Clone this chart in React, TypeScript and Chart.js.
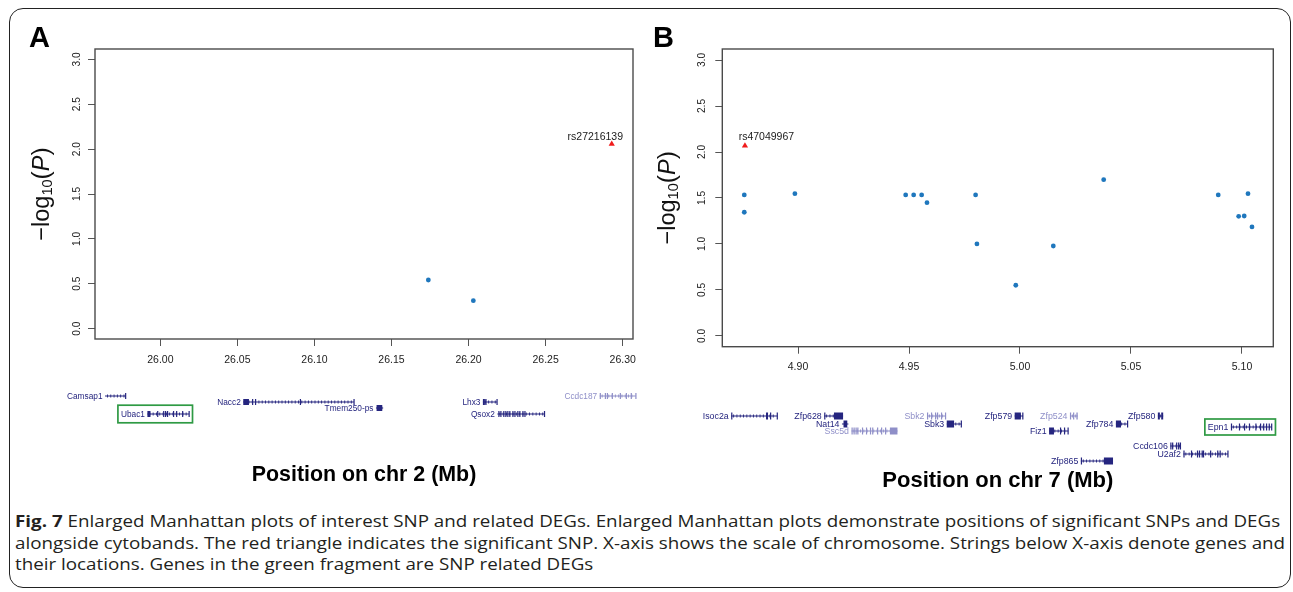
import React, { useEffect, useLayoutEffect, useRef } from 'react';
import { Chart, registerables } from 'chart.js';

Chart.register(...registerables);

const FONT = '"Liberation Sans", Arial, sans-serif';

// ---------------- Panel A (chr 2) ----------------
const aSnpPos = [26.1739, 26.2031];
const aSnpLogP = [0.542, 0.312];
const aSigPos = [26.2929];
const aSigLogP = [2.057];
const aSigId = ['rs27216139'];
const aXRange = [25.9576, 26.3067];
const aYRange = [-0.115, 3.115];
const aTitle = 'Position on chr 2 (Mb)';

const aGeneName = ['Camsap1', 'Ubac1', 'Nacc2', 'Tmem250-ps', 'Lhx3', 'Qsox2', 'Ccdc187'];
const aGeneStart = [25.9641, 25.9916, 26.0538, 26.1399, 26.2093, 26.2187, 26.2851];
const aGeneEnd = [25.9776, 26.0186, 26.1256, 26.1446, 26.2184, 26.2492, 26.3085];
const aGeneRow = [0, 3, 1, 2, 1, 3, 0];
const aGeneExons = [
  [[25.9771, 25.9776]],
  [[25.9916, 25.9936], [25.9979, 25.9982], [26.0018, 26.0024], [26.0030, 26.0036], [26.0043, 26.0050], [26.0082, 26.0085], [26.0102, 26.0105], [26.0141, 26.0144], [26.0183, 26.0186]],
  [[26.0538, 26.0575], [26.0595, 26.0598], [26.0614, 26.0617], [26.0905, 26.0908], [26.1253, 26.1256]],
  [[26.1403, 26.1440]],
  [[26.2093, 26.2097], [26.2101, 26.2105], [26.2109, 26.2113], [26.2181, 26.2184]],
  [[26.2193, 26.2199], [26.2206, 26.2212], [26.2225, 26.2231], [26.2238, 26.2244], [26.2251, 26.2257], [26.2264, 26.2270], [26.2284, 26.2290], [26.2297, 26.2303], [26.2316, 26.2322], [26.2329, 26.2335], [26.2349, 26.2355], [26.2362, 26.2368], [26.2489, 26.2492]],
  [[26.2851, 26.2854], [26.2884, 26.2888], [26.2897, 26.2901], [26.2929, 26.2933], [26.2981, 26.2984], [26.3020, 26.3023], [26.3052, 26.3055], [26.3082, 26.3085]],
];
const aGeneLight = ['Ccdc187'];
const aGeneDEG = ['Ubac1'];

// ---------------- Panel B (chr 7) ----------------
const bSnpPos = [4.8758, 4.8758, 4.8986, 4.9485, 4.9521, 4.9557, 4.9581, 4.9800, 4.9806, 4.9981, 5.0150, 5.0377, 5.0893, 5.0985, 5.1010, 5.1027, 5.1045];
const bSnpLogP = [1.533, 1.345, 1.547, 1.533, 1.533, 1.533, 1.449, 1.533, 1.000, 0.551, 0.978, 1.699, 1.533, 1.301, 1.304, 1.547, 1.185];
const bSigPos = [4.8761];
const bSigLogP = [2.068];
const bSigId = ['rs47049967'];
const bXRange = [4.8659, 5.1141];
const bYRange = [-0.117, 3.12];
const bTitle = 'Position on chr 7 (Mb)';

const bGeneName = ['Isoc2a', 'Zfp628', 'Nat14', 'Ssc5d', 'Sbk2', 'Sbk3', 'Zfp579', 'Zfp524', 'Fiz1', 'Zfp784', 'Zfp580', 'Epn1', 'Ccdc106', 'U2af2', 'Zfp865'];
const bGeneStart = [4.8699, 4.9118, 4.9198, 4.9241, 4.9581, 4.9670, 4.9976, 5.0225, 5.0131, 5.0432, 5.0621, 5.0950, 5.0677, 5.0736, 5.0274];
const bGeneEnd = [4.8907, 4.9203, 4.9227, 4.9448, 4.9665, 4.9736, 5.0014, 5.0260, 5.0217, 5.0485, 5.0645, 5.1135, 5.0724, 5.0937, 5.0419];
const bGeneRow = [0, 0, 1, 2, 0, 1, 0, 0, 2, 1, 0, 1.47, 4, 5, 6];
const bGeneExons = [
  [[4.8699, 4.8702], [4.8856, 4.8865], [4.8874, 4.8877], [4.8904, 4.8907]],
  [[4.9118, 4.9121], [4.9162, 4.9203]],
  [[4.9205, 4.9222]],
  [[4.9241, 4.9244], [4.9250, 4.9253], [4.9259, 4.9262], [4.9267, 4.9270], [4.9288, 4.9291], [4.9306, 4.9309], [4.9324, 4.9327], [4.9334, 4.9338], [4.9356, 4.9359], [4.9374, 4.9377], [4.9392, 4.9395], [4.9414, 4.9448]],
  [[4.9581, 4.9584], [4.9599, 4.9602], [4.9617, 4.9620], [4.9626, 4.9629], [4.9644, 4.9647], [4.9662, 4.9665]],
  [[4.9670, 4.9703], [4.9733, 4.9736]],
  [[4.9976, 5.0004], [5.0010, 5.0014]],
  [[5.0225, 5.0228], [5.0239, 5.0242], [5.0254, 5.0260]],
  [[5.0131, 5.0153], [5.0180, 5.0183], [5.0198, 5.0201], [5.0214, 5.0217]],
  [[5.0432, 5.0455], [5.0482, 5.0485]],
  [[5.0621, 5.0630], [5.0636, 5.0645]],
  [[5.0950, 5.0953], [5.0986, 5.0989], [5.1009, 5.1012], [5.1031, 5.1036], [5.1060, 5.1063], [5.1081, 5.1085], [5.1095, 5.1099], [5.1108, 5.1112], [5.1120, 5.1124], [5.1131, 5.1135]],
  [[5.0677, 5.0681], [5.0685, 5.0689], [5.0703, 5.0707], [5.0712, 5.0716], [5.0720, 5.0724]],
  [[5.0736, 5.0739], [5.0770, 5.0773], [5.0797, 5.0800], [5.0806, 5.0809], [5.0818, 5.0821], [5.0824, 5.0827], [5.0856, 5.0859], [5.0888, 5.0891], [5.0899, 5.0902], [5.0934, 5.0937]],
  [[5.0274, 5.0277], [5.0378, 5.0419]],
];
const bGeneLight = ['Ssc5d', 'Sbk2', 'Zfp524'];
const bGeneDEG = ['Epn1'];

const captionBold = 'Fig. 7';
const captionLines = [
  ' Enlarged Manhattan plots of interest SNP and related DEGs. Enlarged Manhattan plots demonstrate positions of significant SNPs and DEGs',
  'alongside cytobands. The red triangle indicates the significant SNP. X-axis shows the scale of chromosome. Strings below X-axis denote genes and',
  'their locations. Genes in the green fragment are SNP related DEGs',
];

const DARK = '#25257f';
const LIGHT = '#8f8fc8';
const DEG_GREEN = '#2f9a44';

const decorPlugin = {
  id: 'panelDecor',
  afterDraw(chart: any, _args: any, o: any) {
    const { ctx, chartArea: ca } = chart;
    const xs = chart.scales.x;
    ctx.save();
    // frame
    ctx.strokeStyle = '#4a4a4a';
    ctx.lineWidth = 1.4;
    ctx.strokeRect(ca.left, ca.top, ca.right - ca.left, ca.bottom - ca.top);

    // y-axis title: −log10(P)
    ctx.save();
    ctx.translate(o.yTitleX, (ca.top + ca.bottom) / 2);
    ctx.rotate(-Math.PI / 2);
    ctx.fillStyle = '#111';
    ctx.textBaseline = 'alphabetic';
    ctx.textAlign = 'left';
    const fs = o.yTitleSize;
    const parts: any[] = [
      { t: '\u2212log', f: `${fs}px ${FONT}`, dy: 0 },
      { t: '10', f: `${fs * 0.62}px ${FONT}`, dy: fs * 0.12 },
      { t: '(', f: `${fs * 1.05}px ${FONT}`, dy: 0 },
      { t: 'P', f: `italic ${fs}px ${FONT}`, dy: 0 },
      { t: ')', f: `${fs * 1.05}px ${FONT}`, dy: 0 },
    ];
    let total = 0;
    for (const p of parts) {
      ctx.font = p.f;
      p.w = ctx.measureText(p.t).width;
      total += p.w;
    }
    let px = -total / 2;
    for (const p of parts) {
      ctx.font = p.f;
      ctx.fillText(p.t, px, p.dy);
      px += p.w;
    }
    ctx.restore();

    // significant SNP labels
    const meta = chart.getDatasetMeta(1);
    ctx.font = `${o.snpLabelSize}px ${FONT}`;
    ctx.fillStyle = '#1a1a1a';
    ctx.textBaseline = 'middle';
    ctx.textAlign = o.snpLabelAlign;
    meta.data.forEach((pt: any, i: number) => {
      ctx.fillText(o.sigIds[i], pt.x + o.snpLabelDx, pt.y + o.snpLabelDy);
    });

    // gene track
    const g = o.genes;
    for (let i = 0; i < g.names.length; i++) {
      const name = g.names[i];
      const y = Math.round(ca.bottom + o.trackOffset + g.rows[i] * o.rowGap);
      const x0 = xs.getPixelForValue(g.starts[i]);
      const x1 = xs.getPixelForValue(g.ends[i]);
      const col = g.light.includes(name) ? LIGHT : DARK;
      ctx.fillStyle = col;
      ctx.strokeStyle = col;
      // backbone
      ctx.fillRect(x0, y - 0.5, x1 - x0, 1);
      // intron marks
      for (let x = x0 + 2; x < x1 - 1.5; x += 3.3) {
        ctx.fillRect(x, y - 1.5, 0.9, 3);
      }
      // exons
      const eh = o.exonH;
      for (const [s, e] of g.exons[i]) {
        const a = xs.getPixelForValue(s);
        const b = xs.getPixelForValue(e);
        ctx.fillRect(a, y - eh / 2, Math.max(1.2, b - a), eh);
      }
      // label
      ctx.font = `${o.geneFont}px ${FONT}`;
      ctx.textAlign = 'right';
      ctx.textBaseline = 'middle';
      const lx = x0 - 2.5;
      ctx.fillText(name, lx, y + 0.5);
      if (g.deg.includes(name)) {
        const tw = ctx.measureText(name).width;
        ctx.strokeStyle = DEG_GREEN;
        ctx.lineWidth = 1.7;
        ctx.strokeRect(lx - tw - 3, y - o.degHalfH, x1 + 3.5 - (lx - tw - 3), o.degHalfH * 2);
      }
    }
    ctx.restore();
  },
};

function buildConfig(p: any) {
  return {
    type: 'scatter',
    data: {
      datasets: [
        {
          data: p.snpPos.map((x: number, i: number) => ({ x, y: p.snpLogP[i] })),
          pointRadius: 2.4,
          pointHoverRadius: 2.4,
          pointBackgroundColor: '#1f77bd',
          pointBorderWidth: 0,
          borderWidth: 0,
        },
        {
          data: p.sigPos.map((x: number, i: number) => ({ x, y: p.sigLogP[i] })),
          pointStyle: 'triangle',
          pointRadius: 3.6,
          pointHoverRadius: 3.6,
          pointBackgroundColor: '#f01c1c',
          pointBorderWidth: 0,
          borderWidth: 0,
        },
      ],
    },
    options: {
      responsive: false,
      animation: false,
      events: [],
      layout: { padding: p.L.padding, autoPadding: false },
      plugins: {
        legend: { display: false },
        tooltip: { enabled: false },
        panelDecor: {
          yTitleX: p.L.yTitleX,
          yTitleSize: p.L.yTitleSize,
          snpLabelSize: 10.5,
          snpLabelAlign: p.L.snpLabelAlign,
          snpLabelDx: p.L.snpLabelDx,
          snpLabelDy: p.L.snpLabelDy,
          sigIds: p.sigId,
          trackOffset: p.L.trackOffset,
          rowGap: p.L.rowGap,
          exonH: p.L.exonH,
          geneFont: p.L.geneFont,
          degHalfH: p.L.degHalfH,
          genes: p.genes,
        },
      },
      scales: {
        x: {
          type: 'linear',
          position: 'bottom',
          min: p.xRange[0],
          max: p.xRange[1],
          ticks: {
            stepSize: 0.05,
            includeBounds: false,
            autoSkip: false,
            maxRotation: 0,
            padding: p.L.xTickPad,
            color: '#222',
            font: { family: FONT, size: 10.5 },
            callback: (v: any) => Number(v).toFixed(2),
          },
          grid: { display: true, drawOnChartArea: false, drawTicks: true, tickLength: 7, color: '#555', lineWidth: 1 },
          border: { display: false },
          title: {
            display: true,
            text: p.title,
            color: '#000',
            font: { family: FONT, size: p.L.titleSize, weight: 'bold' },
            padding: { top: 0, bottom: p.L.titlePadBottom },
          },
          afterFit: (s: any) => { s.height = p.L.xAxisHeight; },
        },
        y: {
          type: 'linear',
          position: 'left',
          min: p.yRange[0],
          max: p.yRange[1],
          ticks: {
            stepSize: 0.5,
            includeBounds: false,
            autoSkip: false,
            minRotation: 90,
            maxRotation: 90,
            crossAlign: 'center',
            padding: p.L.yTickPad,
            color: '#222',
            font: { family: FONT, size: 10.2 },
            callback: (v: any) => Number(v).toFixed(1),
          },
          grid: { display: true, drawOnChartArea: false, drawTicks: true, tickLength: 7, color: '#555', lineWidth: 1 },
          border: { display: false },
          afterFit: (s: any) => { s.width = p.L.yAxisWidth; },
        },
      },
    },
    plugins: [decorPlugin],
  } as any;
}

const panelA = {
  snpPos: aSnpPos, snpLogP: aSnpLogP, sigPos: aSigPos, sigLogP: aSigLogP, sigId: aSigId,
  xRange: aXRange, yRange: aYRange, title: aTitle,
  genes: { names: aGeneName, starts: aGeneStart, ends: aGeneEnd, rows: aGeneRow, exons: aGeneExons, light: aGeneLight, deg: aGeneDEG },
  L: {
    padding: { top: 49, left: 0, right: 12, bottom: 0 },
    yAxisWidth: 95, xAxisHeight: 161, yTickPad: 3.7, xTickPad: 8,
    titleSize: 21.4, titlePadBottom: 12.2, yTitleX: 49, yTitleSize: 23.5,
    snpLabelAlign: 'right', snpLabelDx: 11.3, snpLabelDy: -7.3,
    trackOffset: 56.7, rowGap: 6.2, exonH: 6, geneFont: 8.3, degHalfH: 8.8,
  },
};

const panelB = {
  snpPos: bSnpPos, snpLogP: bSnpLogP, sigPos: bSigPos, sigLogP: bSigLogP, sigId: bSigId,
  xRange: bXRange, yRange: bYRange, title: bTitle,
  genes: { names: bGeneName, starts: bGeneStart, ends: bGeneEnd, rows: bGeneRow, exons: bGeneExons, light: bGeneLight, deg: bGeneDEG },
  L: {
    padding: { top: 49, left: 0, right: 19.7, bottom: 0 },
    yAxisWidth: 77.3, xAxisHeight: 153.3, yTickPad: 5.7, xTickPad: 7.3,
    titleSize: 22, titlePadBottom: 5.8, yTitleX: 30, yTitleSize: 23.5,
    snpLabelAlign: 'left', snpLabelDx: -6.3, snpLabelDy: -8.4,
    trackOffset: 69.3, rowGap: 7.5, exonH: 7, geneFont: 8.8, degHalfH: 8,
  },
};

export default function App() {
  const refA = useRef<HTMLCanvasElement>(null);
  const refB = useRef<HTMLCanvasElement>(null);
  const capRefs = [useRef<HTMLDivElement>(null), useRef<HTMLDivElement>(null), useRef<HTMLDivElement>(null)];

  useEffect(() => {
    const a = new Chart(refA.current as HTMLCanvasElement, buildConfig(panelA));
    const b = new Chart(refB.current as HTMLCanvasElement, buildConfig(panelB));
    return () => { a.destroy(); b.destroy(); };
  }, []);

  useLayoutEffect(() => {
    const first = capRefs[0].current;
    if (!first) return;
    const w = first.scrollWidth;
    const k = 1265 / w;
    capRefs.forEach((r) => {
      if (r.current) r.current.style.transform = `scaleX(${k})`;
    });
  }, []);

  const capBase: React.CSSProperties = {
    position: 'absolute', left: 15, whiteSpace: 'nowrap', fontFamily: '"Open Sans", sans-serif',
    fontSize: 15.5, lineHeight: '21px', color: '#231f20', transformOrigin: '0 0', display: 'inline-block',
  };
  const letter: React.CSSProperties = {
    position: 'absolute', top: 22.8, fontFamily: FONT, fontWeight: 'bold', fontSize: 29, lineHeight: '29px', color: '#000',
  };

  return (
    <div style={{ position: 'absolute', left: 0, top: 0, width: 1293, height: 592, background: '#fff', overflow: 'hidden' }}>
      <div style={{ position: 'absolute', left: 9, top: 8, width: 1282, height: 580, border: '1.8px solid #222', borderRadius: 14, boxSizing: 'border-box' }} />
      <canvas ref={refA} width={645} height={500} style={{ position: 'absolute', left: 0, top: 0 }} />
      <canvas ref={refB} width={648} height={500} style={{ position: 'absolute', left: 645, top: 0 }} />
      <div style={{ ...letter, left: 29 }}>A</div>
      <div style={{ ...letter, left: 653 }}>B</div>
      <div ref={capRefs[0]} style={{ ...capBase, top: 511.2 }}><b>{captionBold}</b>{captionLines[0]}</div>
      <div ref={capRefs[1]} style={{ ...capBase, top: 532.5 }}>{captionLines[1]}</div>
      <div ref={capRefs[2]} style={{ ...capBase, top: 553.5 }}>{captionLines[2]}</div>
    </div>
  );
}
